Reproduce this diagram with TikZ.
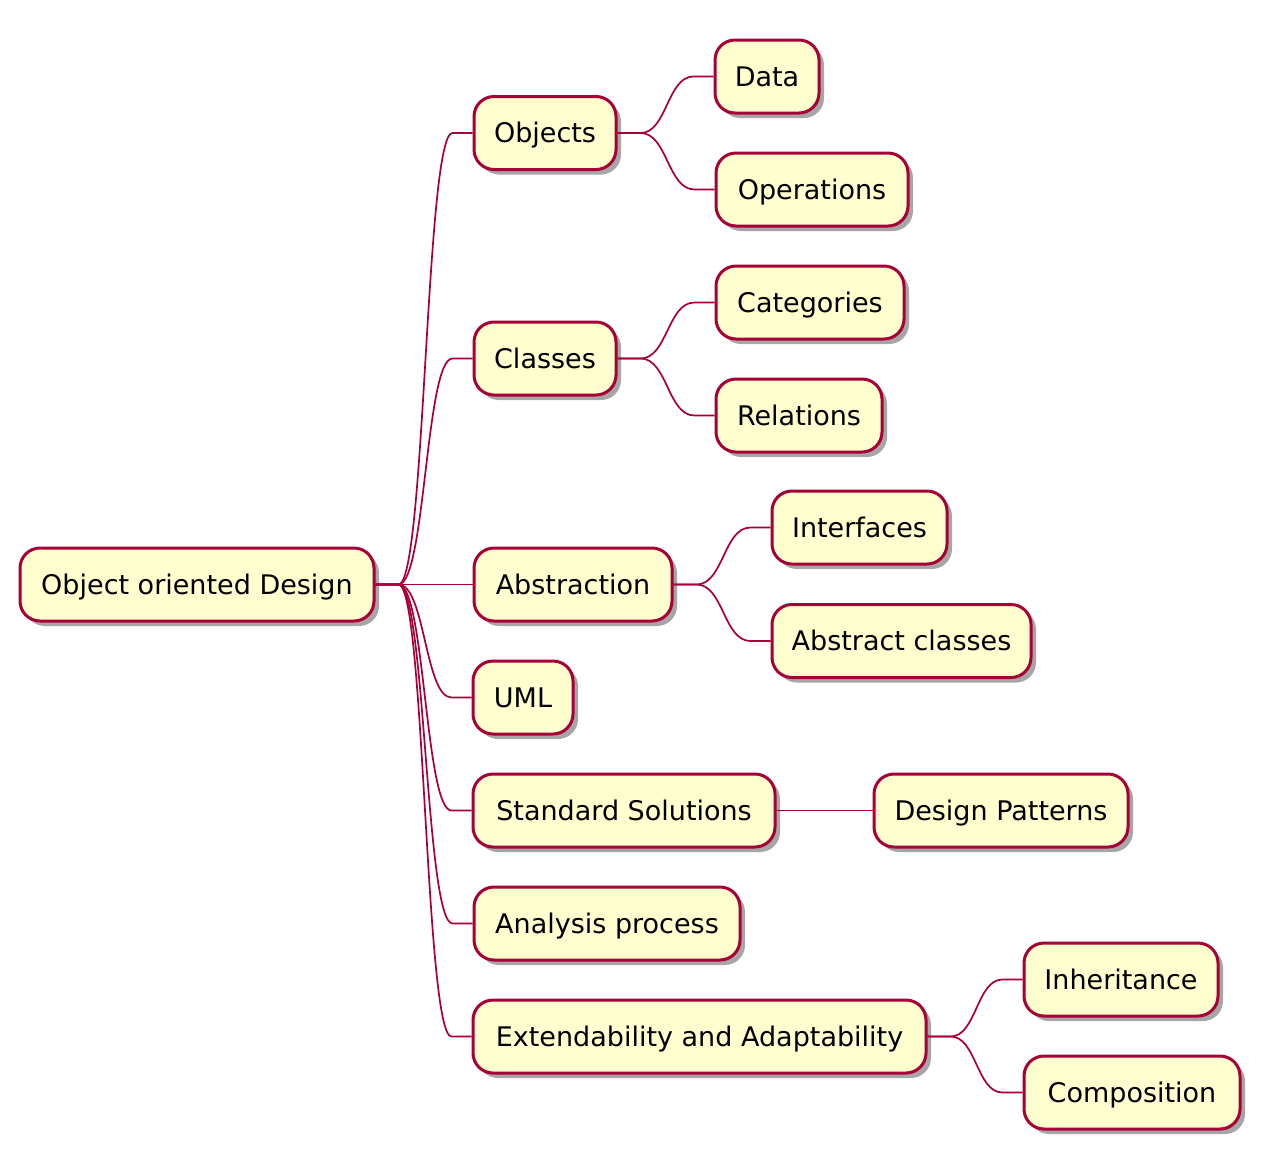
\documentclass[tikz,border=0pt]{standalone}
\usepackage{fontspec}
\setmainfont{DejaVu Sans}
\usetikzlibrary{calc,shadows}
\definecolor{boxfill}{HTML}{FEFECE}
\definecolor{boxline}{HTML}{A80036}
\tikzset{
  topic/.style={draw=boxline, line width=3pt, fill=boxfill, rounded corners=20pt,
    minimum height=73pt, inner xsep=0pt, inner ysep=0pt, text height=19.7pt, text depth=0pt,
    font=\fontsize{27}{32}\selectfont, anchor=center,
    drop shadow={shadow xshift=5pt, shadow yshift=-5pt, opacity=0.35, fill=black}},
  conn/.style={draw=boxline, line width=1.7pt,
    to path={let \p1=(\tikztostart), \p2=(\tikztotarget) in
      -- (\x1+23pt,\y1) .. controls (0.5*\x1+0.5*\x2+1.5pt,\y1) and (0.5*\x1+0.5*\x2+1.5pt,\y2) .. (\x2-20pt,\y2) -- (\tikztotarget)}}
}
\begin{document}
\begin{tikzpicture}[x=1pt,y=-1pt]
\useasboundingbox[fill=white] (0,0) rectangle (1276,1171);
\node[topic, minimum width=354pt] (root) at (197,584.5) {Object oriented Design};
\node[topic, minimum width=142pt] (objects) at (545,133) {Objects};
\node[topic, minimum width=104pt] (data) at (767,76.5) {Data};
\node[topic, minimum width=192pt] (operations) at (812,189.5) {Operations};
\node[topic, minimum width=142pt] (classes) at (545,358.5) {Classes};
\node[topic, minimum width=188pt] (categories) at (810,302.5) {Categories};
\node[topic, minimum width=166pt] (relations) at (799,415.5) {Relations};
\node[topic, minimum width=198pt] (abstraction) at (573,584.5) {Abstraction};
\node[topic, minimum width=175pt] (interfaces) at (859.5,527.5) {Interfaces};
\node[topic, minimum width=259pt] (abstractclasses) at (901.5,641) {Abstract classes};
\node[topic, minimum width=100pt] (uml) at (523,697.5) {UML};
\node[topic, minimum width=302pt] (standard) at (624,810.5) {Standard Solutions};
\node[topic, minimum width=254pt] (patterns) at (1001,810.5) {Design Patterns};
\node[topic, minimum width=266pt] (analysis) at (607,923.5) {Analysis process};
\node[topic, minimum width=453pt] (extend) at (699.5,1036.5) {Extendability and Adaptability};
\node[topic, minimum width=194pt] (inheritance) at (1121,979.5) {Inheritance};
\node[topic, minimum width=216pt] (composition) at (1132,1092.5) {Composition};

\draw[conn] (root.east) to (objects.west);
\draw[conn] (root.east) to (classes.west);
\draw[conn] (root.east) to (abstraction.west);
\draw[conn] (root.east) to (uml.west);
\draw[conn] (root.east) to (standard.west);
\draw[conn] (root.east) to (analysis.west);
\draw[conn] (root.east) to (extend.west);
\draw[conn] (objects.east) to (data.west);
\draw[conn] (objects.east) to (operations.west);
\draw[conn] (classes.east) to (categories.west);
\draw[conn] (classes.east) to (relations.west);
\draw[conn] (abstraction.east) to (interfaces.west);
\draw[conn] (abstraction.east) to (abstractclasses.west);
\draw[conn] (standard.east) to (patterns.west);
\draw[conn] (extend.east) to (inheritance.west);
\draw[conn] (extend.east) to (composition.west);
\end{tikzpicture}
\end{document}
